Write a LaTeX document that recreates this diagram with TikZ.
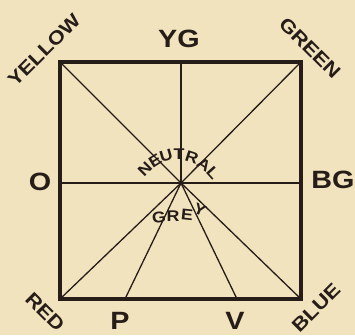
\documentclass[tikz,border=0pt]{standalone}
\usepackage{fontspec}
\setmainfont{Liberation Sans}[FakeStretch=1.15]
\definecolor{paper}{RGB}{241,227,190}
\definecolor{ink}{RGB}{38,28,24}
\begin{document}
\begin{tikzpicture}[x=1pt,y=-1pt,
  frame/.style={draw=ink,line width=3.4pt,line join=miter},
  ray/.style={draw=ink,line width=1.3pt},
  big/.style={text=ink,font=\fontsize{25}{25}\selectfont\bfseries,inner sep=0pt},
  corner/.style={text=ink,font=\fontsize{19}{19}\selectfont\bfseries,inner sep=0pt},
  small/.style={text=ink,font=\fontsize{15.5}{15.5}\selectfont\bfseries,inner sep=0pt}]
\fill[paper] (0,0) rectangle (355,335);
\useasboundingbox (0,0) rectangle (355,335);
% key points
\coordinate (tl) at (60,62);
\coordinate (tr) at (301,62);
\coordinate (bl) at (60,299);
\coordinate (br) at (301,299);
\coordinate (c) at (181,183);
\coordinate (tm) at (181,62);
\coordinate (lm) at (60,183);
\coordinate (rm) at (301,183);
\coordinate (pf) at (125,299);
\coordinate (vf) at (237,299);
% rays
\draw[ray] (c) -- (tl);
\draw[ray] (c) -- (tr);
\draw[ray] (c) -- (bl);
\draw[ray] (c) -- (br);
\draw[ray] (c) -- (tm);
\draw[ray] (c) -- (pf);
\draw[ray] (c) -- (vf);
\draw[ray] (lm) -- (rm);
% frame
\draw[frame] (tl) -- (tr) -- (br) -- (bl) -- cycle;
% side labels
\node[big] (yg) at (179,39) {YG};
\node[big] (o) at (40,182) {O};
\node[big] (bg) at (333,180) {BG};
\node[big] (p) at (120,321) {P};
\node[big] (v) at (235,321) {V};
% corner labels
\node[corner,rotate=45] (yellow) at (44,50) {YELLOW};
\node[corner,rotate=-45] (green) at (310,48) {GREEN};
\node[corner,rotate=-45] (red) at (45,312) {RED};
\node[corner,rotate=45] (blue) at (316,308) {BLUE};
% NEUTRAL
\node[small,rotate=45] (n1) at (145,169) {N};
\node[small,rotate=32] (n2) at (155,161) {E};
\node[small,rotate=16] (n3) at (166,156) {U};
\node[small,rotate=0] (n4) at (179,154) {T};
\node[small,rotate=-18] (n5) at (192,157) {R};
\node[small,rotate=-34] (n6) at (204,165) {A};
\node[small,rotate=-48] (n7) at (213,173) {L};
% GREY
\node[small,rotate=6] (g1) at (159,217) {G};
\node[small,rotate=0] (g2) at (173,216) {R};
\node[small,rotate=-6] (g3) at (187,215) {E};
\node[small,rotate=-22] (g4) at (200,210) {Y};
\end{tikzpicture}
\end{document}
